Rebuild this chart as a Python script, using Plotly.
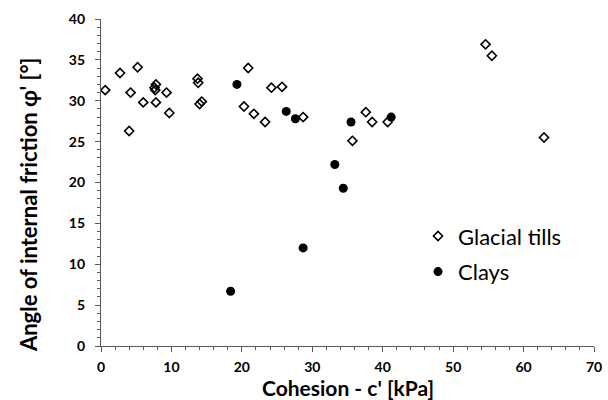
import plotly.graph_objects as go

till_c = [0.6, 2.7, 5.2, 4.2, 4.0, 6.0, 7.8, 7.8, 7.6, 7.7, 9.3, 9.7, 13.7, 13.8, 14.0, 14.3,
          20.9, 20.3, 21.7, 23.3, 24.2, 25.7, 28.7, 37.6, 38.5, 40.7, 35.7, 54.6, 55.5, 62.9]
till_phi = [31.3, 33.4, 34.1, 31.0, 26.3, 29.8, 29.8, 32.0, 31.6, 31.3, 31.0, 28.5, 32.7, 32.2, 29.6, 29.9,
            34.0, 29.3, 28.4, 27.4, 31.6, 31.7, 28.0, 28.6, 27.4, 27.4, 25.1, 36.9, 35.5, 25.5]

clay_c = [19.3, 26.3, 27.6, 35.5, 41.2, 33.2, 34.4, 28.7, 18.4]
clay_phi = [32.0, 28.7, 27.8, 27.4, 28.0, 22.2, 19.3, 12.0, 6.7]

x_ticks = [0, 10, 20, 30, 40, 50, 60, 70]
y_ticks = [0, 5, 10, 15, 20, 25, 30, 35, 40]

x_title = "Cohesion - c' [kPa]"
y_title = "Angle of internal friction φ' [°]"

fig = go.Figure()
fig.add_trace(go.Scatter(
    x=till_c, y=till_phi, mode="markers", name="Glacial tills", legendgroup="a",
    marker=dict(symbol="diamond-open", size=7, color="black", line=dict(width=1.6, color="black")),
))
fig.add_trace(go.Scatter(
    x=clay_c, y=clay_phi, mode="markers", name="Clays", legendgroup="b",
    marker=dict(symbol="circle", size=9, color="black"),
))

axis_color = "#595959"
FONT = "Lato"
tickfont = dict(family=FONT, size=14, color="black")
fig.update_layout(
    width=608, height=400,
    margin=dict(l=101, r=14, t=19, b=54),
    paper_bgcolor="white", plot_bgcolor="white",
    showlegend=True,
    legend=dict(x=0.643, y=0.40, xanchor="left", yanchor="top",
                font=dict(family=FONT, size=22, color="black"),
                bgcolor="rgba(0,0,0,0)", traceorder="grouped", tracegroupgap=4),
    xaxis=dict(
        range=[0, 70], tickvals=x_ticks, ticktext=[f"<b>{v}</b>" for v in x_ticks],
        showgrid=False, zeroline=False, showline=True, linecolor=axis_color, linewidth=1.2,
        ticks="outside", ticklen=5, tickcolor=axis_color, tickwidth=1.2,
        minor=dict(dtick=2, ticks="outside", ticklen=3, tickcolor=axis_color, tickwidth=1),
        tickfont=tickfont, automargin=False, ticklabelstandoff=3,
    ),
    yaxis=dict(
        range=[0, 40], tickvals=y_ticks, ticktext=[f"<b>{v}</b>" for v in y_ticks],
        showgrid=False, zeroline=False, showline=True, linecolor=axis_color, linewidth=1.2,
        ticks="outside", ticklen=5, tickcolor=axis_color, tickwidth=1.2,
        minor=dict(dtick=1, ticks="outside", ticklen=3, tickcolor=axis_color, tickwidth=1),
        tickfont=tickfont, automargin=False, ticklabelstandoff=7,
    ),
    annotations=[
        dict(text=f"<b>{y_title}</b>", textangle=-90, showarrow=False,
             xref="paper", yref="paper", x=-0.148, y=0.431, xanchor="center", yanchor="middle",
             font=dict(family=FONT, size=22, color="black")),
        dict(text=f"<b>{x_title}</b>", showarrow=False,
             xref="paper", yref="paper", x=0.5, y=-0.1254, xanchor="center", yanchor="middle",
             font=dict(family=FONT, size=21, color="black")),
    ],
)

fig.write_html("out.html", config={"displayModeBar": False},
               post_script="document.body.style.margin='0px';document.body.style.overflow='hidden';")
